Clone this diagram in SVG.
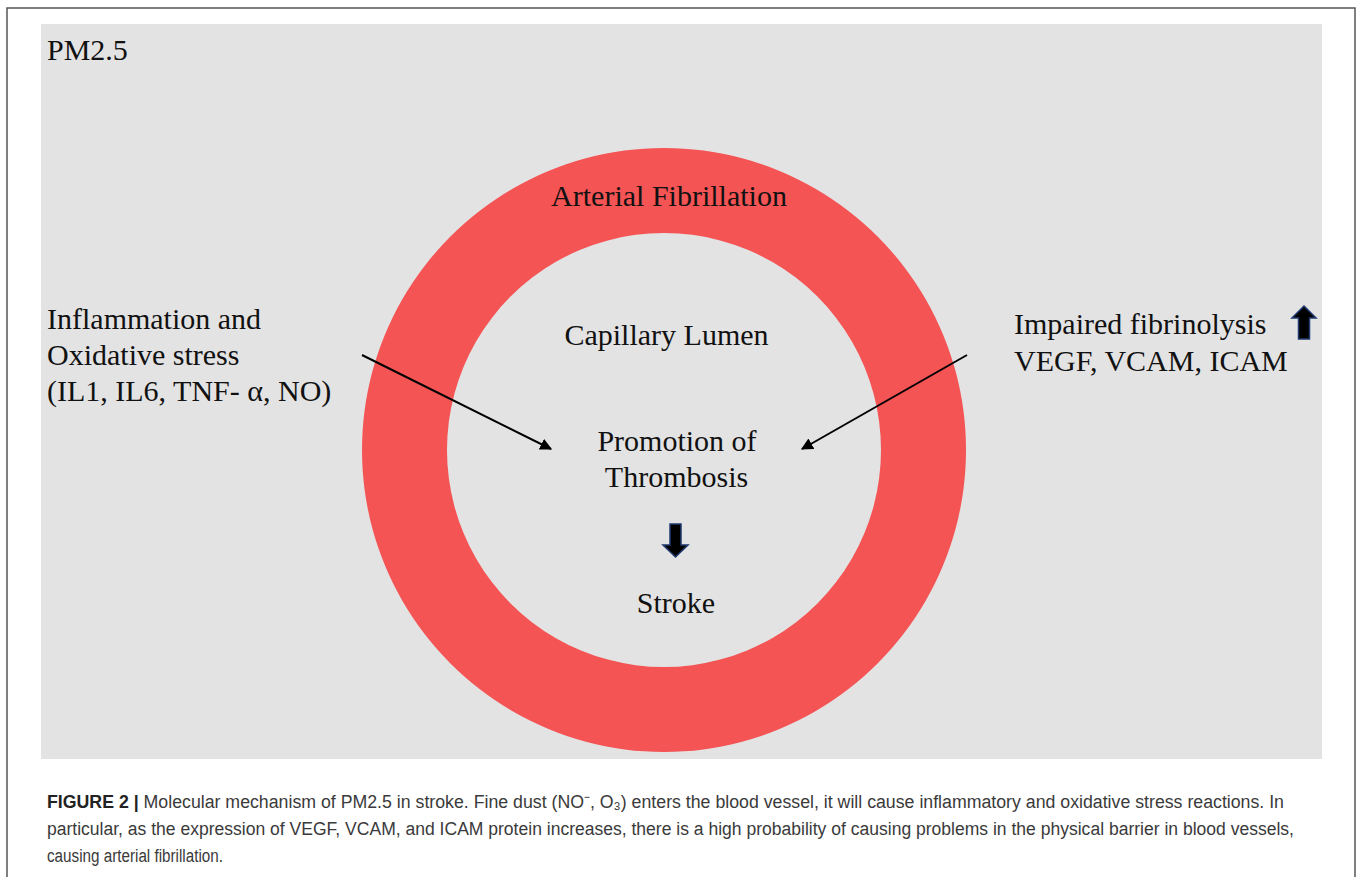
<svg xmlns="http://www.w3.org/2000/svg" width="1357" height="877" viewBox="0 0 1357 877">
  <style>
    .lbl { font-family: "Liberation Serif", "Times New Roman", serif; font-size: 30px; fill: #111; }
    .mid { text-anchor: middle; }
    .cap { font-family: "Liberation Sans Narrow", "Liberation Sans", Arial, sans-serif; font-size: 18px; fill: #3a3a3a; }
    .conn { stroke: #000; stroke-width: 2; fill: none; }
    .blk { fill: #000; stroke: #1F3A6E; stroke-width: 1.5; stroke-linejoin: miter; }
  </style>
  <defs>
    <marker id="ah" viewBox="0 0 10 10" refX="9" refY="5" markerWidth="6" markerHeight="6" markerUnits="strokeWidth" orient="auto">
      <path d="M0,0 L10,5 L0,10 z" fill="#000"/>
    </marker>
  </defs>
  <rect x="0" y="0" width="1357" height="877" fill="#fff"/>
  <rect x="7" y="8" width="1348" height="880" fill="none" stroke="#555" stroke-width="1.5"/>
  <rect id="panel" x="41" y="24" width="1281" height="735" fill="#E3E3E3"/>

  <g id="pm25"><text class="lbl" x="47" y="60">PM2.5</text></g>

  <g id="vessel">
    <path d="M664,148 a302,302 0 1,0 0.01,0 z M664,233 a217,217 0 1,1 -0.01,0 z" fill="#F45454" fill-rule="evenodd"/>
    <text class="lbl mid" x="669" y="206">Arterial Fibrillation</text>
  </g>

  <g id="lumen"><text class="lbl mid" x="666.5" y="345">Capillary Lumen</text></g>

  <g id="thrombosis">
    <text class="lbl mid" x="677" y="451">Promotion of</text>
    <text class="lbl mid" x="676.5" y="487">Thrombosis</text>
  </g>

  <g id="down-arrow">
    <path class="blk" d="M670,524 L681,524 L681,545 L688,545 L675.5,557 L663,545 L670,545 z"/>
  </g>

  <g id="stroke"><text class="lbl mid" x="676" y="613">Stroke</text></g>

  <g id="inflammation">
    <text class="lbl" x="47" y="329">Inflammation and</text>
    <text class="lbl" x="47" y="365">Oxidative stress</text>
    <text class="lbl" x="47" y="401">(IL1, IL6, TNF- α, NO)</text>
  </g>

  <g id="fibrinolysis">
    <text class="lbl" x="1014" y="334">Impaired fibrinolysis</text>
    <text class="lbl" x="1014" y="371">VEGF, VCAM, ICAM</text>
    <path class="blk" d="M1304,306 L1316,318 L1309.5,318 L1309.5,339 L1298.5,339 L1298.5,318 L1292,318 z"/>
  </g>

  <g id="connectors">
    <line class="conn" x1="362" y1="355" x2="551" y2="449" marker-end="url(#ah)"/>
    <line class="conn" x1="967" y1="355" x2="802" y2="449" marker-end="url(#ah)"/>
  </g>

  <g id="caption">
    <text class="cap" x="47" y="808" textLength="1237" lengthAdjust="spacingAndGlyphs"><tspan font-weight="bold" fill="#222">FIGURE 2 |</tspan> Molecular mechanism of PM2.5 in stroke. Fine dust (NO⁻, O₃) enters the blood vessel, it will cause inflammatory and oxidative stress reactions. In</text>
    <text class="cap" x="47" y="835" textLength="1247" lengthAdjust="spacingAndGlyphs">particular, as the expression of VEGF, VCAM, and ICAM protein increases, there is a high probability of causing problems in the physical barrier in blood vessels,</text>
    <text class="cap" x="47" y="862" textLength="176" lengthAdjust="spacingAndGlyphs">causing arterial fibrillation.</text>
  </g>
</svg>
